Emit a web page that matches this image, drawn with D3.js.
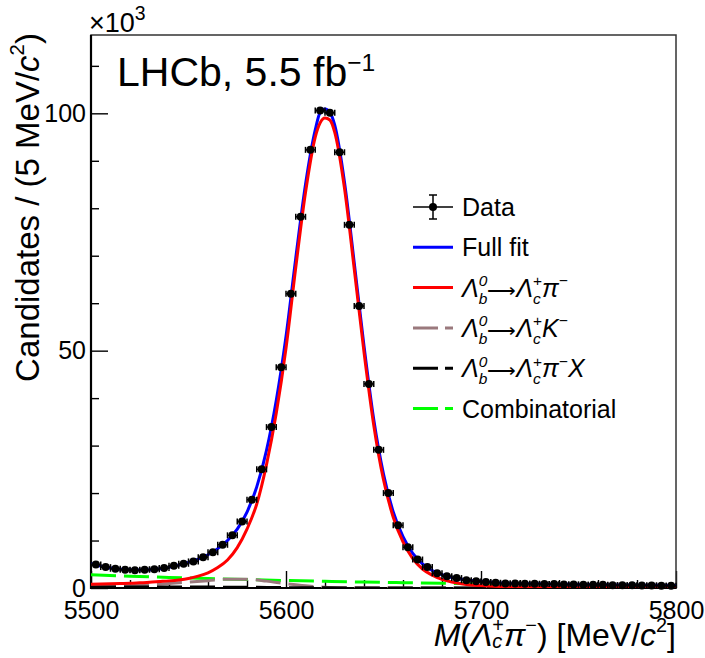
<!DOCTYPE html>
<html><head><meta charset="utf-8">
<script src="https://cdn.jsdelivr.net/npm/d3@7"></script>
<style>
body{margin:0;background:#fff}
svg{display:block}
text{font-family:"Liberation Sans",Arial,Helvetica,sans-serif;fill:#000}
</style>
</head><body><svg id="c" width="705" height="658"></svg>
<script>
// ---------------- data (values in units of 10^3 candidates) ----------------
const binCenters = [5502.5,5507.5,5512.5,5517.5,5522.5,5527.5,5532.5,5537.5,5542.5,5547.5,
  5552.5,5557.5,5562.5,5567.5,5572.5,5577.5,5582.5,5587.5,5592.5,5597.5,
  5602.5,5607.5,5612.5,5617.5,5622.5,5627.5,5632.5,5637.5,5642.5,5647.5,
  5652.5,5657.5,5662.5,5667.5,5672.5,5677.5,5682.5,5687.5,5692.5,5697.5,
  5702.5,5707.5,5712.5,5717.5,5722.5,5727.5,5732.5,5737.5,5742.5,5747.5,
  5752.5,5757.5,5762.5,5767.5,5772.5,5777.5,5782.5,5787.5,5792.5,5797.5];
const dataCounts = [4.95,4.4,4.05,3.85,3.75,3.85,3.95,4.2,4.7,5.1,
  5.6,6.5,7.55,9.1,11.1,14.0,18.6,25.0,33.9,46.5,
  62.0,78.2,92.3,100.6,100.1,91.8,76.5,59.4,43.0,29.1,
  20.0,13.2,8.6,6.0,4.4,3.1,2.5,2.1,1.65,1.4,
  1.25,1.1,0.95,0.95,0.9,0.9,0.85,0.85,0.75,0.75,
  0.7,0.7,0.7,0.6,0.6,0.6,0.55,0.55,0.5,0.45];

const fitMass = [5500,5505,5510,5515,5520,5525,5530,5535,5540,5545,5550,5555,5560,5565,5570,5575,5580,5585,5590,5595,5600,5605,5610,5615,
  5617.5,5620,5622.5,5625,
  5630,5635,5640,5645,5650,5655,5660,5665,5670,5675,5680,5685,5690,5695,5700,
  5710,5720,5730,5740,5750,5760,5770,5780,5790,5800];
const fullFit = [5.2,4.6,4.2,3.95,3.85,3.8,3.85,4.0,4.35,4.85,5.4,6.1,7.0,8.3,10.0,12.4,16.0,21.3,29.0,39.5,53.0,69.5,85.0,96.5,
  100.2,100.9,100.2,97.5,
  85.5,68.5,51.0,35.5,24.0,16.0,10.8,7.3,5.1,3.7,2.8,2.2,1.85,1.6,1.4,
  1.05,0.95,0.88,0.8,0.75,0.7,0.64,0.6,0.56,0.52];
const signalPi = [0.8,0.85,0.9,0.95,1.0,1.1,1.2,1.35,1.5,1.7,2.0,2.5,3.2,4.3,5.9,8.5,12.4,17.7,26.0,36.8,50.5,67.5,83.3,95.0,
  98.0,99.0,98.6,96.0,
  84.2,67.2,49.7,34.3,22.8,14.9,9.7,6.2,4.0,2.7,1.8,1.25,0.9,0.65,0.5,
  0.3,0.2,0.14,0.1,0.07,0.05,0.04,0.03,0.02,0.02];

const combMass = [5500,5520,5540,5560,5580,5600,5620,5640,5660,5680,5700,5720,5740,5760,5780,5800];
const combinatorial = [2.8,2.5,2.23,1.99,1.77,1.58,1.41,1.25,1.12,1.0,0.89,0.79,0.71,0.63,0.56,0.5];

const kMass = [5500,5510,5520,5530,5540,5550,5560,5570,5580,5590,5600,5610,5620,5630,5640,5660,5700,5800];
const signalK = [0.25,0.35,0.5,0.7,0.95,1.25,1.55,1.85,1.85,1.45,0.9,0.45,0.18,0.07,0.03,0.01,0,0];

const xMass = [5500,5520,5540,5560,5580,5600,5620,5640,5800];
const partReco = [0.2,0.22,0.22,0.2,0.15,0.08,0.03,0.01,0];

const xMajorTicks = [5500,5600,5700,5800];
const xMinorTicks = [5520,5540,5560,5580,5620,5640,5660,5680,5720,5740,5760,5780];
const yMajorTicks = [0,50,100];
const yMinorTicks = [10,20,30,40,60,70,80,90,110];

// ---------------- chart ----------------
const svg = d3.select('#c');
const X0=91, X1=676, Y0=588, Y1=35;
const x = d3.scaleLinear().domain([5500,5800]).range([X0,X1]);
const y = d3.scaleLinear().domain([0,116.5]).range([Y0,Y1]);

svg.append('defs').append('clipPath').attr('id','clip')
  .append('rect').attr('x',X0).attr('y',Y1).attr('width',X1-X0).attr('height',Y0-Y1);

function rich(parent, parts, size){
  const g = parent.append('g');
  let cx = 0;
  parts.forEach(p=>{
    if(p.t!==undefined){
      const t=g.append('text').attr('x',cx).attr('y',0).style('font-size',(p.size||size)+'px')
        .style('font-style',p.i?'italic':'normal').text(p.t);
      cx += t.node().getComputedTextLength()+(p.dx||0);
    } else {
      let w=0; const s=(p.scale||0.62)*size;
      if(p.sup!==undefined){
        const t=g.append('text').attr('x',cx).attr('y',-size*(p.up||0.42)).style('font-size',s+'px')
          .style('font-style',p.supi?'italic':'normal').text(p.sup);
        w=Math.max(w,t.node().getComputedTextLength());
      }
      if(p.sub!==undefined){
        const t=g.append('text').attr('x',cx).attr('y',size*(p.down!==undefined?p.down:0.28)).style('font-size',s+'px')
          .style('font-style',p.subi?'italic':'normal').text(p.sub);
        w=Math.max(w,t.node().getComputedTextLength());
      }
      cx += w+(p.dx||0);
    }
  });
  return {g, w:cx};
}

// axes
const ax = svg.append('g');
const xa = ax.append('g').attr('transform',`translate(0,${Y0})`)
  .call(d3.axisBottom(x).tickValues(xMajorTicks).tickSize(-17).tickSizeOuter(0).tickPadding(13).tickFormat(d3.format('d')));
const xm = ax.append('g').attr('transform',`translate(0,${Y0})`)
  .call(d3.axisBottom(x).tickValues(xMinorTicks).tickSize(-8).tickSizeOuter(0).tickFormat(''));
const ya = ax.append('g').attr('transform',`translate(${X0},0)`)
  .call(d3.axisLeft(y).tickValues(yMajorTicks).tickSize(-17).tickSizeOuter(0).tickPadding(5).tickFormat(d3.format('d')));
const ym = ax.append('g').attr('transform',`translate(${X0},0)`)
  .call(d3.axisLeft(y).tickValues(yMinorTicks).tickSize(-8).tickSizeOuter(0).tickFormat(''));
[xa,xm,ya,ym].forEach(a=>{
  a.select('.domain').remove();
  a.selectAll('line').attr('stroke','#000').attr('stroke-width',1.4);
  a.selectAll('text').style('font-size','25px').style('font-family','"Liberation Sans",Arial,sans-serif').attr('fill','#000');
});

// frame
svg.append('rect').attr('x',X0).attr('y',Y1).attr('width',X1-X0).attr('height',Y0-Y1)
  .attr('fill','none').attr('stroke','#333').attr('stroke-width',1.5);
svg.append('path').attr('d',`M${X0},${Y1}V${Y0}H${X1}`).attr('fill','none').attr('stroke','#000').attr('stroke-width',2.2);

// curves
const plot = svg.append('g').attr('clip-path','url(#clip)');
function curve(xs, ys, color, dash){
  const line = d3.line().x((d,i)=>x(xs[i])).y(d=>y(d)).curve(d3.curveMonotoneX);
  plot.append('path').datum(ys).attr('d',line).attr('fill','none').attr('stroke',color)
    .attr('stroke-width',3).attr('stroke-dasharray',dash||null);
}
const DASH='25,8';
const brown='#9a797d';
curve(combMass, combinatorial, '#00ff00', DASH);
curve(kMass, signalK, brown, DASH);
curve(xMass, partReco, '#000', DASH);
curve(fitMass, fullFit, '#0000ff');
curve(fitMass, signalPi, '#ff0000');

// data points
const pts = svg.append('g');
binCenters.forEach((c,i)=>{
  const v = dataCounts[i];
  const e = Math.sqrt(v*1000)/1000;
  const px=x(c), py=y(v);
  const xl=x(c-2.5), xr=x(c+2.5);
  pts.append('line').attr('x1',xl).attr('x2',xr).attr('y1',py).attr('y2',py).attr('stroke','#000').attr('stroke-width',1.5);
  pts.append('line').attr('x1',xl).attr('x2',xl).attr('y1',py-3).attr('y2',py+3).attr('stroke','#000').attr('stroke-width',1.5);
  pts.append('line').attr('x1',xr).attr('x2',xr).attr('y1',py-3).attr('y2',py+3).attr('stroke','#000').attr('stroke-width',1.5);
  pts.append('line').attr('x1',px).attr('x2',px).attr('y1',y(v+e)).attr('y2',y(v-e)).attr('stroke','#000').attr('stroke-width',1.5);
  pts.append('circle').attr('cx',px).attr('cy',py).attr('r',4).attr('fill','#000');
});

// labels
const lh = rich(svg, [{t:'LHCb, 5.5 fb'},{sup:'\u22121', up:0.36, scale:0.6}], 41);
lh.g.attr('transform','translate(117,86)');
const ex = rich(svg, [{t:'\u00d710'},{sup:'3', up:0.45, scale:0.72}], 27);
ex.g.attr('transform','translate(89,32)');

// x title
const xt = rich(svg, [{t:'M',i:true},{t:'('},{t:'\u039b',i:true},{sup:'+',sub:'c',subi:true,down:0.06,up:0.45},{t:'\u03c0',i:true},{sup:'\u2212',up:0.45},{t:') [MeV/'},{t:'c',i:true},{sup:'2',up:0.45},{t:']'}], 32);
xt.g.attr('transform',`translate(${X1-xt.w},646)`);
// y title
const ytg = svg.append('g').attr('transform','translate(39,33) rotate(-90)');
const yt = rich(ytg, [{t:'Candidates / (5 MeV/'},{t:'c',i:true},{sup:'2',up:0.45},{t:')'}], 33);
yt.g.attr('transform',`translate(${-yt.w},0)`);

// legend
const leg = svg.append('g');
const LX0=413, LX1=453, TX=462, LY=207, LDY=40.3;
function lam(extra){
  return [{t:'\u039b',i:true},{sup:'0',sub:'b',supi:true,subi:true},{t:'\u27f6',size:20},{t:'\u039b',i:true},{sup:'+',sub:'c',subi:true}].concat(extra);
}
const entries = [
  {type:'data', label:[{t:'Data'}]},
  {type:'line', color:'#0000ff', label:[{t:'Full fit'}]},
  {type:'line', color:'#ff0000', label:lam([{t:'\u03c0',i:true},{sup:'\u2212'}])},
  {type:'dash', color:brown, label:lam([{t:'K',i:true},{sup:'\u2212'}])},
  {type:'dash', color:'#000', label:lam([{t:'\u03c0',i:true},{sup:'\u2212'},{t:'X',i:true}])},
  {type:'dash', color:'#00ff00', label:[{t:'Combinatorial'}]}
];
entries.forEach((en,i)=>{
  const ly = LY + i*LDY;
  if(en.type==='data'){
    leg.append('line').attr('x1',LX0).attr('x2',LX1).attr('y1',ly).attr('y2',ly).attr('stroke','#000').attr('stroke-width',1.5);
    leg.append('line').attr('x1',433).attr('x2',433).attr('y1',ly-12).attr('y2',ly+12).attr('stroke','#000').attr('stroke-width',1.5);
    leg.append('line').attr('x1',429).attr('x2',437).attr('y1',ly-12).attr('y2',ly-12).attr('stroke','#000').attr('stroke-width',1.5);
    leg.append('line').attr('x1',429).attr('x2',437).attr('y1',ly+12).attr('y2',ly+12).attr('stroke','#000').attr('stroke-width',1.5);
    leg.append('circle').attr('cx',433).attr('cy',ly).attr('r',4).attr('fill','#000');
  } else {
    leg.append('line').attr('x1',LX0).attr('x2',LX1).attr('y1',ly).attr('y2',ly).attr('stroke',en.color)
      .attr('stroke-width',3).attr('stroke-dasharray',en.type==='dash'?'25,7':null);
  }
  const r = rich(leg, en.label, 25);
  r.g.attr('transform',`translate(${TX},${ly+9})`);
});
</script></body></html>
